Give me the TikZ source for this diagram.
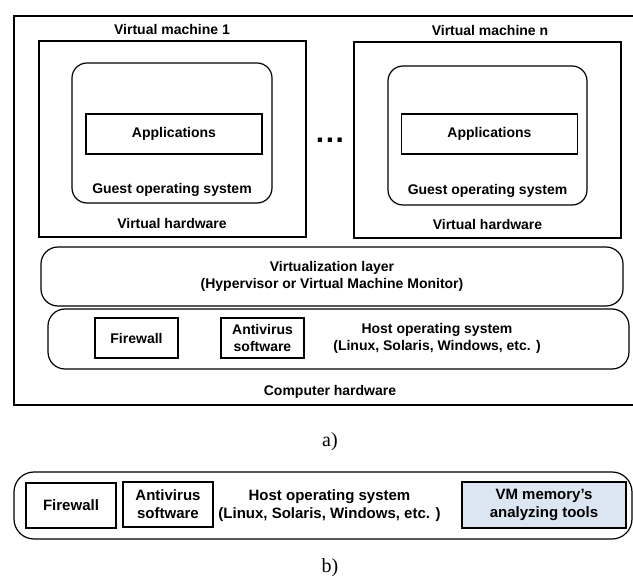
\documentclass[tikz,border=0pt]{standalone}
\usepackage{fontspec}
\setmainfont{Liberation Sans}
\newfontfamily\serifcap{Liberation Serif}
\definecolor{toolfill}{HTML}{DCE6F2}
\begin{document}
\begin{tikzpicture}[x=1pt,y=-1pt,
  every node/.style={font=\fontsize{14}{17}\selectfont\bfseries, inner sep=0pt, align=center},
  thickbox/.style={draw, line width=2pt},
  plainbox/.style={draw, line width=1.2pt},
  roundbox/.style={draw, line width=1.2pt, rounded corners=16pt},
  bigtxt/.style={font=\fontsize{15}{18}\selectfont\bfseries},
  captxt/.style={font=\serifcap\fontsize{20}{22}\selectfont},
]
\clip (0,0) rectangle (633,580);
% panel a
\node[thickbox, minimum width=626pt, minimum height=389pt] (outer) at (327,210.5) {};
\node[thickbox, minimum width=267pt, minimum height=196pt] (vm1) at (172.5,139) {};
\node[thickbox, minimum width=267pt, minimum height=196pt] (vmn) at (487.5,140) {};
\node (vm1t) at (172,29) {Virtual machine 1};
\node (vmnt) at (490,30) {Virtual machine n};
\node[roundbox, rounded corners=15pt, minimum width=200pt, minimum height=140pt] (g1) at (172,133) {};
\node[roundbox, rounded corners=15pt, minimum width=199pt, minimum height=139pt] (gn) at (487.5,135.5) {};
\node[plainbox, minimum width=176pt, minimum height=40pt] (app1) at (174,134) {Applications};
\node[plainbox, minimum width=176pt, minimum height=40pt] (appn) at (489.5,134) {Applications};
\node (g1t) at (172,190) {Guest operating system};
\node (gnt) at (487.5,191) {Guest operating system};
\node (vh1) at (172,223) {Virtual hardware};
\node (vhn) at (487.5,224) {Virtual hardware};
\node[font=\fontsize{30}{32}\selectfont\bfseries] (dots) at (330,140) {.\hspace{1.5pt}.\hspace{1.5pt}.};
\node[roundbox, rounded corners=17pt, minimum width=582pt, minimum height=59pt] (virt) at (332,276.5) {};
\node (virtt) at (332,276) {Virtualization layer\\(Hypervisor or Virtual Machine Monitor)};
\node[roundbox, rounded corners=17pt, minimum width=581pt, minimum height=60pt] (host) at (338.5,339) {};
\node[plainbox, minimum width=83pt, minimum height=40pt] (fw) at (136.5,338) {Firewall};
\node[plainbox, minimum width=83pt, minimum height=40pt] (av) at (262.5,338) {Antivirus\\software};
\node (hostt) at (437,338.5) {Host operating system\\(Linux, Solaris, Windows, etc. )};
\node (hw) at (330,392) {Computer hardware};
\node[captxt] (capa) at (330,442) {a)};
% panel b
\node[roundbox, rounded corners=20pt, minimum width=618pt, minimum height=67pt] (hostb) at (323,505.5) {};
\node[plainbox, bigtxt, minimum width=90pt, minimum height=45pt] (fwb) at (71,505.5) {Firewall};
\node[plainbox, bigtxt, minimum width=90pt, minimum height=45pt] (avb) at (168,504.5) {Antivirus\\software};
\node[bigtxt] (hostbt) at (329.5,506) {Host operating system\\(Linux, Solaris, Windows, etc. )};
\node[thickbox, bigtxt, fill=toolfill, minimum width=164pt, minimum height=46pt] (tools) at (544,505) {VM memory's\\analyzing tools};
\node[captxt] (capb) at (330,568) {b)};
\end{tikzpicture}
\end{document}
